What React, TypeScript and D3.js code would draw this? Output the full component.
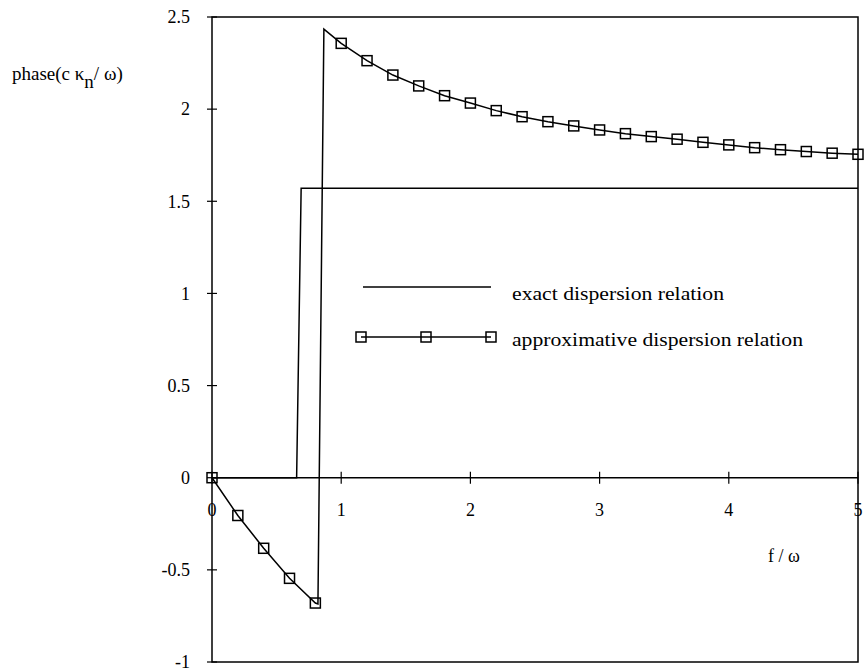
import React from "react";
import * as d3 from "d3";

// Normalised frequency f/ω and the phase of c·κn/ω for both dispersion relations
const exactF = [0, 0.655, 0.69, 5];
const exactPhase = [0, 0, 1.5708, 1.5708];

const approxF = [
  0, 0.2, 0.4, 0.6, 0.8, 0.82, 0.866, 1.0, 1.2, 1.4, 1.6, 1.8, 2.0, 2.2, 2.4, 2.6,
  2.8, 3.0, 3.2, 3.4, 3.6, 3.8, 4.0, 4.2, 4.4, 4.6, 4.8, 5.0,
];
const approxPhase = [
  0, -0.205, -0.383, -0.546, -0.68, -0.685, 2.434, 2.357, 2.263, 2.185, 2.126, 2.073,
  2.033, 1.992, 1.959, 1.932, 1.909, 1.887, 1.867, 1.851, 1.837, 1.82, 1.806, 1.791,
  1.78, 1.77, 1.761, 1.755,
];

const yTicks = [-1, -0.5, 0, 0.5, 1, 1.5, 2, 2.5];
const yTickLabels = ["-1", "-0.5", "0", "0.5", "1", "1.5", "2", "2.5"];
const xTicks = [0, 1, 2, 3, 4, 5];
const xTickLabels = ["0", "1", "2", "3", "4", "5"];

const legendLabels = ["exact dispersion relation", "approximative dispersion relation"];

const W = 866;
const H = 672;
const FONT = "'Liberation Serif', 'Times New Roman', serif";

export default function App() {
  const x = d3.scaleLinear().domain([0, 5]).range([212, 858]);
  const y = d3.scaleLinear().domain([-1, 2.5]).range([662, 17]);

  const line = d3
    .line<[number, number]>()
    .x((d) => x(d[0]))
    .y((d) => y(d[1]));

  const exactPts = exactF.map((f, i) => [f, exactPhase[i]] as [number, number]);
  const approxPts = approxF.map((f, i) => [f, approxPhase[i]] as [number, number]);
  // squares sit on every 0.2 step of f/ω
  const marked = approxPts.filter(
    (p) => Math.abs(p[0] * 5 - Math.round(p[0] * 5)) < 1e-6
  );

  const ms = 10; // marker side
  const square = (cx: number, cy: number, key: React.Key) => (
    <rect
      key={key}
      x={cx - ms / 2}
      y={cy - ms / 2}
      width={ms}
      height={ms}
      fill="none"
      stroke="#000"
      strokeWidth={1.5}
    />
  );

  const [x0, x1] = x.range();
  const [yb, yt] = y.range();

  return (
    <svg
      width={W}
      height={H}
      style={{ position: "absolute", left: 0, top: 0, background: "#fff" }}
      fontFamily={FONT}
      fontSize={18}
    >
      <rect x={0} y={0} width={W} height={H} fill="#fff" />

      {/* frame and zero line */}
      <rect
        x={x0}
        y={yt}
        width={x1 - x0}
        height={yb - yt}
        fill="none"
        stroke="#000"
        strokeWidth={1.5}
      />
      <line x1={x0} x2={x1} y1={y(0)} y2={y(0)} stroke="#000" strokeWidth={1.5} />

      {/* y ticks */}
      {yTicks.map((t, i) => (
        <g key={"yt" + i}>
          <line x1={x0 - 5} x2={x0 + 5} y1={y(t)} y2={y(t)} stroke="#000" strokeWidth={1.2} />
          <text x={190} y={y(t)} dy="0.35em" textAnchor="end" fill="#000">
            {yTickLabels[i]}
          </text>
        </g>
      ))}

      {/* x ticks on the zero line */}
      {xTicks.map((t, i) => (
        <g key={"xt" + i}>
          <line x1={x(t)} x2={x(t)} y1={y(0) - 6} y2={y(0) + 6} stroke="#000" strokeWidth={1.2} />
          <text x={x(t)} y={y(0) + 32} dy="0.35em" textAnchor="middle" fill="#000">
            {xTickLabels[i]}
          </text>
        </g>
      ))}

      {/* curves */}
      <path d={line(exactPts) || ""} fill="none" stroke="#000" strokeWidth={1.5} />
      <path d={line(approxPts) || ""} fill="none" stroke="#000" strokeWidth={1.5} />
      {marked.map((p, i) => square(x(p[0]), y(p[1]), "m" + i))}

      {/* axis titles */}
      <text x={12} y={80} fill="#000" fontSize={19}>
        phase(c κ
        <tspan dy={8}>n</tspan>
        <tspan dy={-8}>/ ω)</tspan>
      </text>
      <text x={768} y={562} fill="#000">
        f / ω
      </text>

      {/* legend */}
      <line x1={363} x2={491} y1={287} y2={287} stroke="#000" strokeWidth={1.5} />
      <text
        x={512}
        y={293}
        dy="0.35em"
        fill="#000"
        fontSize={19}
        textLength={212}
        lengthAdjust="spacingAndGlyphs"
      >
        {legendLabels[0]}
      </text>
      <line x1={361} x2={491} y1={337} y2={337} stroke="#000" strokeWidth={1.5} />
      {[361, 426, 491].map((lx, i) => square(lx, 337, "l" + i))}
      <text
        x={512}
        y={339}
        dy="0.35em"
        fill="#000"
        fontSize={19}
        textLength={291}
        lengthAdjust="spacingAndGlyphs"
      >
        {legendLabels[1]}
      </text>
    </svg>
  );
}
